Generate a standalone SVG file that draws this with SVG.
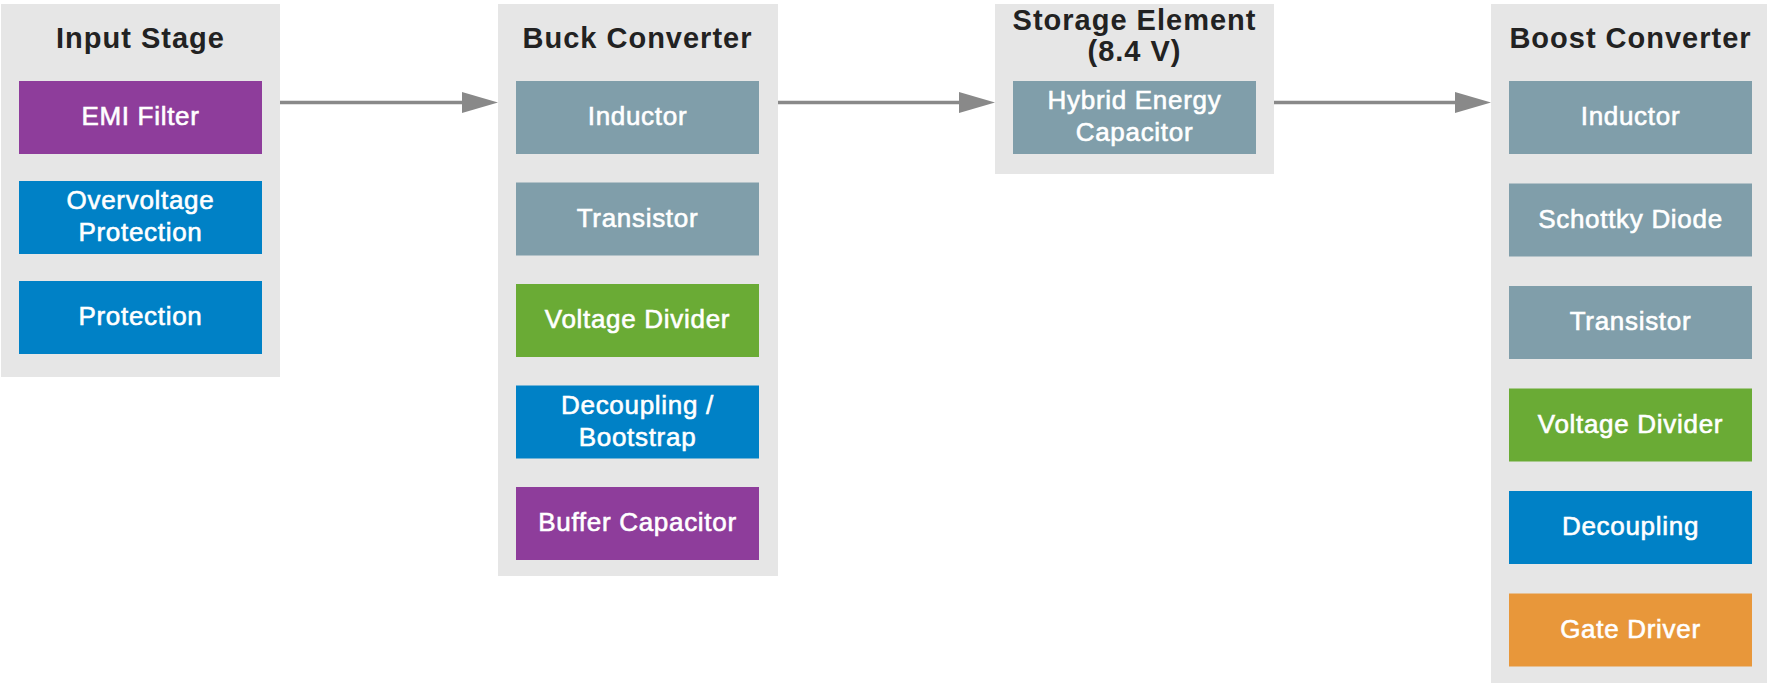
<svg xmlns="http://www.w3.org/2000/svg" width="1767" height="683" viewBox="0 0 1767 683">
<style>
.cluster{fill:#e6e6e6}
.title{font-family:"Liberation Sans",Arial,Helvetica,sans-serif;font-weight:bold;font-size:29px;letter-spacing:1px;fill:#222;text-anchor:middle}
.lbl{font-family:"Liberation Sans",Arial,Helvetica,sans-serif;font-size:26px;letter-spacing:0.7px;fill:#fff;stroke:#fff;stroke-width:0.6px;text-anchor:middle}
.purple{fill:#8e3d9b}
.blue{fill:#0081c6}
.grey{fill:#809eaa}
.green{fill:#6aab35}
.orange{fill:#e8973a}
.edge{stroke:#898989;stroke-width:3.5;fill:none}
</style>
<defs>
<marker id="ah" markerUnits="userSpaceOnUse" markerWidth="37" markerHeight="22" refX="0" refY="11" orient="auto">
<path d="M0,0.5 L36,11 L0,21.5 z" fill="#898989"/>
</marker>
</defs>

<g id="input-stage">
<rect class="cluster" x="1" y="4" width="279" height="373"/>
<text class="title" x="140.5" y="48">Input Stage</text>
<g id="emi-filter"><rect class="purple" x="19" y="81" width="243" height="73"/><text class="lbl" x="140.5" y="125">EMI Filter</text></g>
<g id="overvoltage-protection"><rect class="blue" x="19" y="181" width="243" height="73"/><text class="lbl" x="140.5" y="209">Overvoltage</text><text class="lbl" x="140.5" y="241">Protection</text></g>
<g id="protection"><rect class="blue" x="19" y="281" width="243" height="73"/><text class="lbl" x="140.5" y="325">Protection</text></g>
</g>

<g id="buck-converter">
<rect class="cluster" x="498" y="4" width="280" height="572"/>
<text class="title" x="637.5" y="48">Buck Converter</text>
<g id="buck-inductor"><rect class="grey" x="516" y="81" width="243" height="73"/><text class="lbl" x="637.5" y="125">Inductor</text></g>
<g id="buck-transistor"><rect class="grey" x="516" y="182.5" width="243" height="73"/><text class="lbl" x="637.5" y="226.5">Transistor</text></g>
<g id="buck-voltage-divider"><rect class="green" x="516" y="284" width="243" height="73"/><text class="lbl" x="637.5" y="328">Voltage Divider</text></g>
<g id="buck-decoupling"><rect class="blue" x="516" y="385.5" width="243" height="73"/><text class="lbl" x="637.5" y="413.5">Decoupling /</text><text class="lbl" x="637.5" y="445.5">Bootstrap</text></g>
<g id="buffer-capacitor"><rect class="purple" x="516" y="487" width="243" height="73"/><text class="lbl" x="637.5" y="531">Buffer Capacitor</text></g>
</g>

<g id="storage-element">
<rect class="cluster" x="995" y="4" width="279" height="170"/>
<text class="title" x="1134.5" y="30">Storage Element</text>
<text class="title" x="1134.5" y="61">(8.4 V)</text>
<g id="hybrid-capacitor"><rect class="grey" x="1013" y="81" width="243" height="73"/><text class="lbl" x="1134.5" y="109">Hybrid Energy</text><text class="lbl" x="1134.5" y="141">Capacitor</text></g>
</g>

<g id="boost-converter">
<rect class="cluster" x="1491" y="4" width="276" height="679"/>
<text class="title" x="1630.5" y="48">Boost Converter</text>
<g id="boost-inductor"><rect class="grey" x="1509" y="81" width="243" height="73"/><text class="lbl" x="1630.5" y="125">Inductor</text></g>
<g id="schottky-diode"><rect class="grey" x="1509" y="183.5" width="243" height="73"/><text class="lbl" x="1630.5" y="227.5">Schottky Diode</text></g>
<g id="boost-transistor"><rect class="grey" x="1509" y="286" width="243" height="73"/><text class="lbl" x="1630.5" y="330">Transistor</text></g>
<g id="boost-voltage-divider"><rect class="green" x="1509" y="388.5" width="243" height="73"/><text class="lbl" x="1630.5" y="432.5">Voltage Divider</text></g>
<g id="boost-decoupling"><rect class="blue" x="1509" y="491" width="243" height="73"/><text class="lbl" x="1630.5" y="535">Decoupling</text></g>
<g id="gate-driver"><rect class="orange" x="1509" y="593.5" width="243" height="73"/><text class="lbl" x="1630.5" y="637.5">Gate Driver</text></g>
</g>

<g id="connectors">
<line class="edge" x1="280" y1="102.5" x2="462" y2="102.5" marker-end="url(#ah)"/>
<line class="edge" x1="778" y1="102.5" x2="959" y2="102.5" marker-end="url(#ah)"/>
<line class="edge" x1="1274" y1="102.5" x2="1455" y2="102.5" marker-end="url(#ah)"/>
</g>
</svg>
